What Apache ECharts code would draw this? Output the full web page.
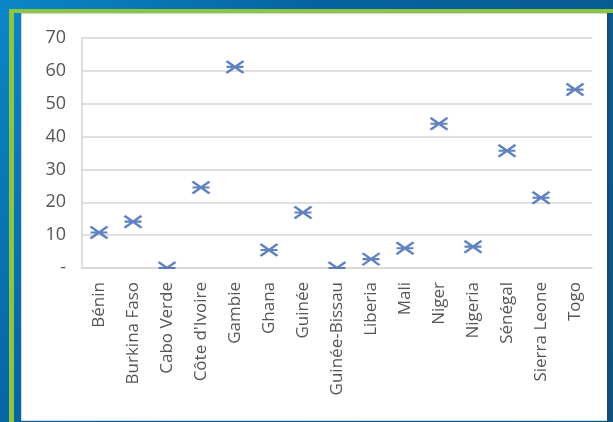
<!DOCTYPE html>
<html>
<head>
<meta charset="utf-8">
<script src="https://cdn.jsdelivr.net/npm/echarts@6/dist/echarts.min.js"></script>
<style>
  html, body { margin: 0; padding: 0; background: #065f9a; }
  #chart { width: 613px; height: 422px; }
</style>
</head>
<body>
<div id="chart"></div>
<script>
// West African countries and their values
const categories = [
  'Bénin', 'Burkina Faso', 'Cabo Verde', "Côte d'Ivoire", 'Gambie', 'Ghana', 'Guinée',
  'Guinée-Bissau', 'Liberia', 'Mali', 'Niger', 'Nigeria', 'Sénégal', 'Sierra Leone', 'Togo'
];
const values = [10.8, 14.1, 0, 24.5, 61.2, 5.5, 16.9, 0, 2.7, 6.0, 43.9, 6.5, 35.7, 21.4, 54.3];

// value axis ticks
const yMin = 0;
const yMax = 70;
const yStep = 10;

const textColor = '#555555';
const gridColor = '#d6d6d6';
const markerColor = '#3a63b2';
const fontFamily = '"Open Sans", "Noto Sans", sans-serif';

// Asterisk-like marker: an X crossed by a horizontal bar
const starSymbol = 'path://M0,0L16,12M0,12L16,0M0,6L16,6';

const chart = echarts.init(document.getElementById('chart'), null, { renderer: 'canvas' });

const gridLeft = 82, gridRight = 21, gridTop = 38, gridBottom = 154;

chart.setOption({
  animation: false,
  backgroundColor: {
    type: 'linear', x: 0, y: 0, x2: 1, y2: 1,
    colorStops: [
      { offset: 0, color: '#0b86c8' },
      { offset: 0.35, color: '#0763a0' },
      { offset: 1, color: '#0a5486' }
    ]
  },
  graphic: [
    // green frame
    { type: 'rect', left: 9, top: 9, shape: { width: 604, height: 4 }, style: { fill: '#8cc63f' }, z: 0 },
    { type: 'rect', left: 9, top: 9, shape: { width: 5, height: 413 }, style: { fill: '#8cc63f' }, z: 0 },
    // white chart panel
    { type: 'rect', left: 21, top: 13, shape: { width: 586, height: 407 },
      style: { fill: '#ffffff', stroke: '#cfd6dc', lineWidth: 1 }, z: 0 },
    // dark edge on the right of the panel
    { type: 'rect', left: 607, top: 13, shape: { width: 2, height: 409 }, style: { fill: '#23476a' }, z: 0 },
    // plot-area clip below the baseline
    { type: 'rect', left: gridLeft + 1, top: 422 - gridBottom + 1,
      shape: { width: 613 - gridLeft - gridRight - 1, height: 9 },
      style: { fill: '#ffffff' }, z: 50 }
  ],
  grid: { left: gridLeft, right: gridRight, top: gridTop, bottom: gridBottom, containLabel: false },
  xAxis: {
    type: 'category',
    data: categories,
    boundaryGap: true,
    axisLine: { show: true, lineStyle: { color: gridColor, width: 1.5 } },
    axisTick: { show: false },
    splitLine: { show: false },
    axisLabel: {
      rotate: 90,
      interval: 0,
      margin: 14,
      color: textColor,
      fontFamily: fontFamily,
      fontSize: 17
    }
  },
  yAxis: {
    type: 'value',
    min: yMin,
    max: yMax,
    interval: yStep,
    axisLine: { show: true, lineStyle: { color: gridColor, width: 1.5 } },
    axisTick: { show: false },
    splitLine: { show: true, lineStyle: { color: gridColor, width: 1.5 } },
    axisLabel: {
      margin: 16,
      color: textColor,
      fontFamily: fontFamily,
      fontSize: 18,
      formatter: v => (v === 0 ? '-' : String(v))
    }
  },
  series: [{
    type: 'scatter',
    data: values,
    symbol: starSymbol,
    symbolSize: [17, 12],
    itemStyle: { color: 'transparent', borderColor: markerColor, borderWidth: 2.5 },
    z: 10
  }]
});
</script>
</body>
</html>
